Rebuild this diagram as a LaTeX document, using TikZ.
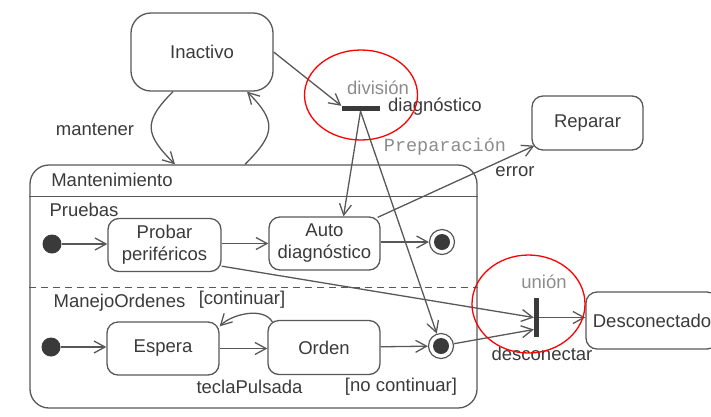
\documentclass[tikz,border=0pt]{standalone}
\usepackage{fontspec}
\setmainfont{Liberation Sans}
\setmonofont{Liberation Mono}
\usepackage{xcolor}
\usepackage{tikz}
\usetikzlibrary{calc,arrows.meta}
\definecolor{trazo}{HTML}{585858}
\definecolor{letra}{HTML}{3A3A3A}
\definecolor{claro}{HTML}{8C8C8C}
\tikzset{
 estado/.style={rectangle,draw=trazo,line width=1.3pt,rounded corners=11pt,text=letra,align=center,inner sep=0pt},
 inicial/.style={circle,fill=letra,minimum size=19pt,inner sep=0pt},
 final/.style={circle,draw=trazo,line width=1.2pt,minimum size=25pt,inner sep=0pt,
   path picture={\fill[letra] (path picture bounding box.center) circle (8pt);}},
 barra/.style={rectangle,fill=letra,inner sep=0pt},
 etiqueta/.style={text=letra,inner sep=0pt},
 flecha/.style={draw=trazo,line width=1.3pt,-{Straight Barb[length=11pt,width=12pt,line width=1.3pt]}}
}
\begin{document}
\begin{tikzpicture}[x=1pt,y=1pt,font=\fontsize{18.5}{22}\selectfont]
\useasboundingbox (0,0) rectangle (711,-416);

 \node at (202,-52) [estado,rounded corners=20pt,minimum width=142pt,minimum height=78pt] (1) {Inactivo};
 \node at (253.5,-286.5) [estado,rounded corners=19pt,minimum width=447pt,minimum height=243pt] (2) {};
 \node at (52,-244) [inicial] (3) {};
 \node at (164.5,-245) [estado,minimum width=113pt,minimum height=53pt] (4) {Probar\\periféricos};
 \node at (324.5,-243.5) [estado,minimum width=111pt,minimum height=53pt] (5) {Auto\\diagnóstico};
 \node at (442,-242) [final] (6) {};
 \node at (51,-347) [inicial] (7) {};
 \node at (163,-348.5) [estado,minimum width=112pt,minimum height=53pt] (8) {Espera};
 \node at (324,-347.5) [estado,minimum width=112pt,minimum height=54pt] (9) {Orden};
 \node at (441,-346) [final] (10) {};
 \node at (360.5,-108.5) [barra,minimum width=38pt,minimum height=5pt] (11) {};
 \node at (536.5,-317.5) [barra,minimum width=5pt,minimum height=39pt] (12) {};
 \node at (587.5,-123) [estado,minimum width=111pt,minimum height=54pt] (13) {Reparar};
 \node at (652,-320.5) [estado,minimum width=132pt,minimum height=57pt] (14) {Desconectado};

 \node at (95,-130) [etiqueta] (15) {mantener};
 \node at (112,-180) [etiqueta] (16) {Mantenimiento};
 \node at (84,-210) [etiqueta] (17) {Pruebas};
 \node at (119.5,-303) [etiqueta] (18) {ManejoOrdenes};
 \node at (242,-300) [etiqueta] (19) {[continuar]};
 \node at (249.5,-387) [etiqueta] (20) {teclaPulsada};
 \node at (401,-387) [etiqueta] (21) {[no continuar]};
 \node at (378,-88) [etiqueta,text=claro] (22) {división};
 \node at (435,-107) [etiqueta] (23) {diagnóstico};
 \node at (445,-147) [etiqueta,text=claro,font=\ttfamily\fontsize{18.5}{22}\selectfont] (24) {Preparación};
 \node at (515,-172) [etiqueta] (25) {error};
 \node at (544,-282) [etiqueta,text=claro] (26) {unión};
 \node at (542,-354) [etiqueta] (27) {desconectar};

 \draw[trazo,line width=1.3pt] ([yshift=-32pt]2.north west) -- ([yshift=-32pt]2.north east);
 \draw[trazo,line width=1.3pt,dash pattern=on 7pt off 5pt] ([yshift=-123pt]2.north west) -- ([yshift=-123pt]2.north east);

 \draw[flecha] ([xshift=-29pt]1.south) to[out=225,in=135,looseness=1.5] ([xshift=-78.5pt]2.north);
  \draw[flecha] ([xshift=-8.5pt]2.north) to[out=45,in=-45,looseness=1.5] ([xshift=45pt]1.south);
 \draw[flecha] (1.east) -- (11.north west);
 \draw[flecha] (11.south) -- ([xshift=19pt]5.north);
  \draw[flecha] (11.south) -- (10);
 \draw[flecha] ([xshift=-3pt,yshift=-1pt]5.north east) -- ([xshift=3pt,yshift=5pt]13.south west);
 \draw[flecha] (3) -- (3 -| 4.west);\draw[flecha] (4.east |- 5) -- (5.west);\draw[flecha] (5.east |- 6) -- (6);
 \draw[flecha] ([yshift=6pt]4.south east) -- (12.west);
 \draw[flecha] (7) -- (7 -| 8.west);\draw[flecha] (8) -- (8 -| 9.west);\draw[flecha] (9) -- (10);
 \draw[flecha] ([xshift=5pt,yshift=-2pt]9.north west) to[out=120,in=45,looseness=0.85] ([yshift=-5pt]8.north east);
  \draw[flecha] (10) -- ([yshift=-12pt]12.west);
  \draw[flecha] (12.east) -- (12.east -| 14.west);

 \draw[red,line width=1.3pt] (361,-95) ellipse (56.5 and 45);
 \draw[red,line width=1.3pt] (528.5,-304) ellipse (56.5 and 49);
\end{tikzpicture}
\end{document}
